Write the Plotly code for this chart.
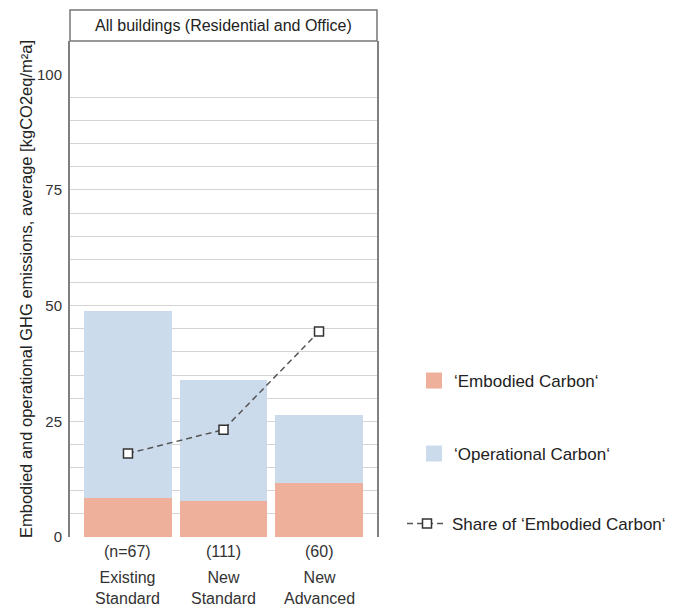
import plotly.graph_objects as go

categories = ["Existing Standard", "New Standard", "New Advanced"]
cat_line1 = ["(n=67)", "(111)", "(60)"]
cat_line2 = ["Existing<br>Standard", "New<br>Standard", "New<br>Advanced"]
embodied = [8.4, 7.7, 11.6]
total = [48.9, 33.9, 26.35]
operational = [t - e for t, e in zip(total, embodied)]
share_embodied = [18.05, 23.2, 44.4]
y_ticks = [0, 25, 50, 75, 100]
minor_grid = [5, 10, 15, 20, 25, 30, 35, 40, 45, 50, 55, 60, 65, 70, 75, 80, 85, 90, 95]

FONT = "Liberation Sans"
C_EMB = "#EEAF9B"
C_OPE = "#CCDBEB"
xs = [0, 1, 2]

# the page body adds an 8px offset; size the figure to compensate
OFF = 8
W, H = 680 - OFF, 606 - OFF
L, T = 70 - OFF, 41 - OFF
R = W - (377 - OFF)
B = H - (537 - OFF)
ph = H - T - B

fig = go.Figure()
fig.add_trace(go.Bar(x=xs, y=embodied, marker=dict(color=C_EMB, line=dict(width=0)),
                     width=0.92, showlegend=False, hoverinfo="y"))
fig.add_trace(go.Bar(x=xs, y=operational, marker=dict(color=C_OPE, line=dict(width=0)),
                     width=0.92, showlegend=False, hoverinfo="y"))
fig.add_trace(go.Scatter(x=xs, y=share_embodied, mode="lines+markers",
                         line=dict(color="#555555", width=1.5, dash="6px,4px"),
                         marker=dict(symbol="square", size=9, color="white",
                                     line=dict(color="#333333", width=1.5)),
                         name="Share of ‘Embodied Carbon‘", legend="legend3"))
fig.add_trace(go.Scatter(x=[None], y=[None], mode="markers",
                         marker=dict(symbol="square", size=16, color=C_EMB),
                         name="‘Embodied Carbon‘", legend="legend"))
fig.add_trace(go.Scatter(x=[None], y=[None], mode="markers",
                         marker=dict(symbol="square", size=16, color=C_OPE),
                         name="‘Operational Carbon‘", legend="legend2"))

annotations = []
for x, a, b in zip(xs, cat_line1, cat_line2):
    annotations.append(dict(x=x, y=0, xref="x", yref="paper", text=a, showarrow=False,
                            yanchor="top", yshift=-4, font=dict(size=16, color="#333", family=FONT)))
    annotations.append(dict(x=x, y=0, xref="x", yref="paper", text=b, showarrow=False,
                            yanchor="top", yshift=-30, font=dict(size=16, color="#333", family=FONT)))
annotations.append(dict(x=0.5, y=1 + 15.5 / ph, xref="paper", yref="paper",
                        text="All buildings (Residential and Office)", showarrow=False,
                        yanchor="middle", font=dict(size=16, color="#222", family=FONT)))

leg_common = dict(font=dict(size=17, color="#222", family=FONT), bgcolor="rgba(0,0,0,0)",
                  xref="container", yref="container", xanchor="left", yanchor="middle",
                  itemclick=False)

fig.update_layout(
    width=W, height=H,
    margin=dict(l=L, r=R, t=T, b=B, autoexpand=False),
    paper_bgcolor="white", plot_bgcolor="white",
    barmode="stack", bargap=0,
    font=dict(family=FONT, color="#333"),
    xaxis=dict(range=[-0.607, 2.607], showticklabels=False, showgrid=False,
               zeroline=False, showline=False, fixedrange=True),
    yaxis=dict(range=[0, 107.2], tickvals=y_ticks, showgrid=False, zeroline=False,
               showline=True, mirror=True, linecolor="#808080", linewidth=2,
               ticks="", ticklabelstandoff=3, automargin=False,
               tickfont=dict(size=15, color="#333", family=FONT),
               minor=dict(tickvals=minor_grid, showgrid=True, gridcolor="#d4d4d4", gridwidth=1, ticks=""),
               title=dict(text="Embodied and operational GHG emissions, average [kgCO2eq/m²a]",
                          font=dict(size=16.5, color="#222", family=FONT), standoff=0)),
    legend=dict(x=(414 - OFF) / W, y=1 - (381 - OFF) / H, **leg_common),
    legend2=dict(x=(414 - OFF) / W, y=1 - (454 - OFF) / H, **leg_common),
    legend3=dict(x=(402 - OFF) / W, y=1 - (524 - OFF) / H, itemwidth=40, **leg_common),
    shapes=[dict(type="rect", xref="paper", yref="paper", x0=0, x1=1, y0=1, y1=1 + 31 / ph,
                 line=dict(color="#777777", width=1.5), fillcolor="rgba(0,0,0,0)")],
    annotations=annotations,
)

fig.write_html("out.html")
